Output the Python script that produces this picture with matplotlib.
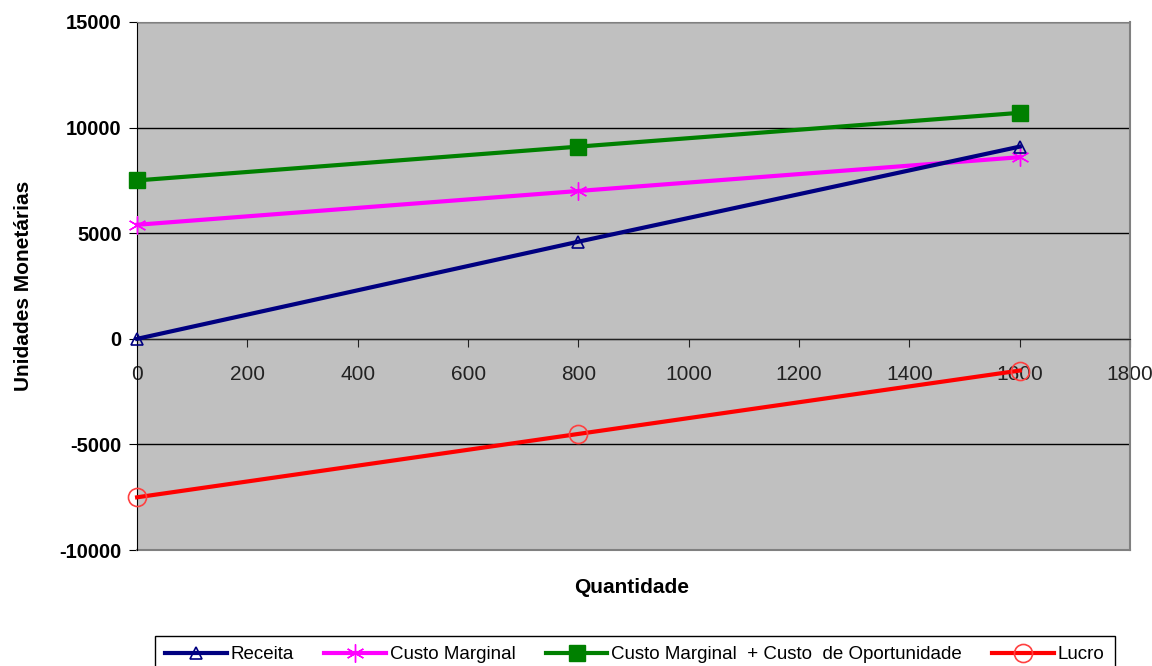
import matplotlib.pyplot as plt
from matplotlib.ticker import MultipleLocator

plt.rcParams['font.family'] = ['Liberation Sans', 'DejaVu Sans']
plt.rcParams['axes.unicode_minus'] = False

# quantidades e valores de cada série
quantidade = [0, 800, 1600]
receita = [0, 4600, 9100]
custo_marginal = [5400, 7000, 8600]
custo_oportunidade = [7500, 9100, 10700]
lucro = [-7500, -4500, -1500]

fig = plt.figure(figsize=(11.52, 6.66), dpi=100)
ax = fig.add_axes([0.119, 0.174, 0.862, 0.793])
ax.set_facecolor('#C0C0C0')

ax.plot(quantidade, receita, color='#000080', lw=3, marker='^', ms=8,
        mfc='none', mec='#000080', mew=1.2, label='Receita', zorder=4, clip_on=False)
ax.plot(quantidade, custo_marginal, color='#FF00FF', lw=3, marker=(6, 2, 0), ms=13,
        mec='#FF00FF', mew=1.0, label='Custo Marginal', zorder=3, clip_on=False)
ax.plot(quantidade, custo_oportunidade, color='#008000', lw=3, marker='s', ms=11,
        mfc='#008000', mec='#008000', label='Custo Marginal  + Custo  de Oportunidade',
        zorder=3, clip_on=False)
ax.plot(quantidade, lucro, color='#FF0000', lw=3, marker='o', ms=13,
        mfc='none', mec='#FF4040', mew=1.2, label='Lucro', zorder=3, clip_on=False)

ax.set_xlim(0, 1800)
ax.set_ylim(-10000, 15000)
ax.xaxis.set_major_locator(MultipleLocator(200))
ax.yaxis.set_major_locator(MultipleLocator(5000))

ax.grid(axis='y', color='black', lw=1.0)
ax.set_axisbelow(True)

# eixo x cruza em zero
ax.spines['bottom'].set_position(('data', 0))
ax.spines['bottom'].set_color('#222222')
ax.spines['left'].set_color('black')
ax.spines['top'].set_color('#808080')
ax.spines['right'].set_color('#808080')
ax.spines['right'].set_linewidth(1.5)
ax.axhline(-10000, color='#808080', lw=1.5, clip_on=False)

ax.tick_params(axis='x', direction='out', length=6, pad=13, labelsize=15, colors='#222222')
ax.tick_params(axis='y', direction='out', length=6, pad=5, labelsize=14.5)
for lbl in ax.get_yticklabels():
    lbl.set_fontweight('bold')

ax.set_ylabel('Unidades Monetárias', fontsize=15, fontweight='bold')
ax.yaxis.set_label_coords(-0.105, 0.5)
fig.text(0.548, 0.118, 'Quantidade', ha='center', va='center', fontsize=15, fontweight='bold')

fig.legend(loc='upper center', bbox_to_anchor=(0.551, 0.045), ncol=4, fontsize=13.5,
           frameon=True, fancybox=False, edgecolor='black', framealpha=1,
           handlelength=3.3, columnspacing=1.6, handletextpad=0.2, borderpad=0.55,
           borderaxespad=0)

fig.savefig('out.png', dpi=100)
